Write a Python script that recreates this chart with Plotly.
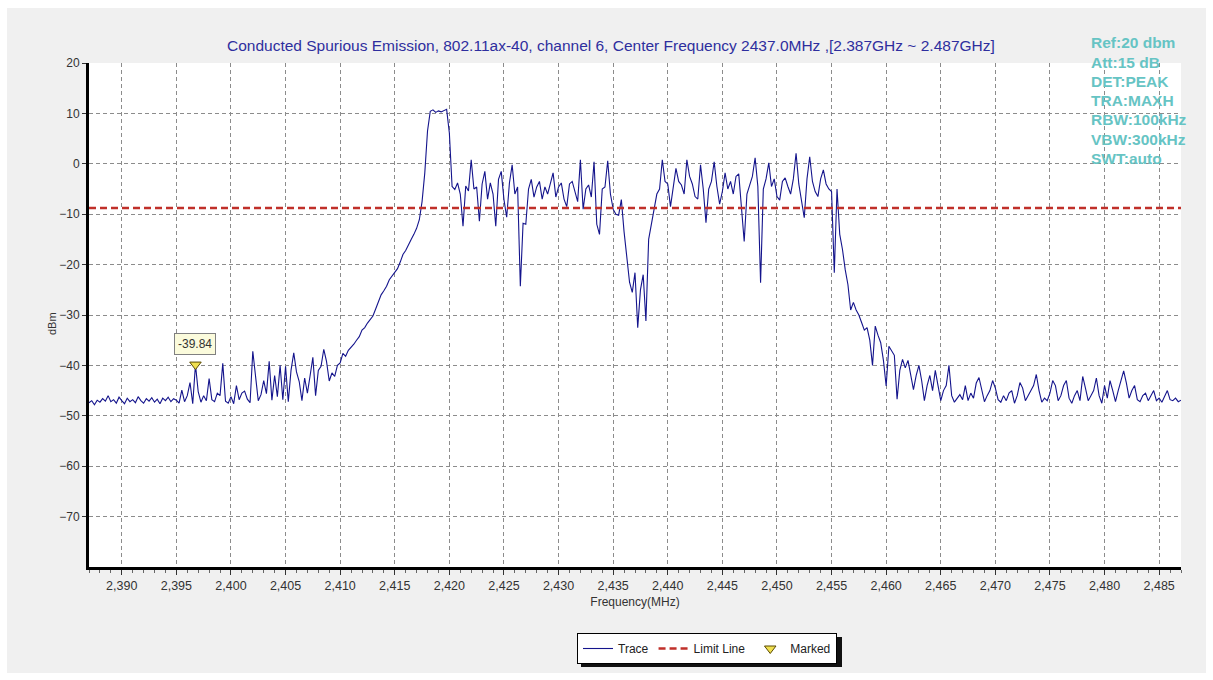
import numpy as np
import plotly.graph_objects as go

# ---------------- data ----------------
TITLE = ("Conducted Spurious Emission, 802.11ax-40, channel 6, Center Frequency 2437.0MHz ,"
         "[2.387GHz ~ 2.487GHz]")
START_MHZ = 2387.0
STOP_MHZ = 2487.0
STEP_MHZ = 0.25

trace_dbm = [
    -47.4, -47.0, -47.8, -46.9,  # 2387
    -47.3, -46.6, -47.1, -46.0,  # 2388
    -47.2, -46.8, -47.5, -46.3,  # 2389
    -47.0, -47.6, -46.5, -47.2,  # 2390
    -46.8, -47.4, -46.2, -47.0,  # 2391
    -47.5, -46.6, -47.1, -46.4,  # 2392
    -47.3, -46.7, -47.6, -46.5,  # 2393
    -47.0, -46.3, -47.2, -46.6,  # 2394
    -46.9, -47.5, -44.9, -47.2,  # 2395
    -46.0, -43.4, -47.6, -39.84,  # 2396
    -45.2, -47.3, -46.0, -47.0,  # 2397
    -42.6, -46.8, -47.2, -45.5,  # 2398
    -46.0, -39.6, -47.1, -47.5,  # 2399
    -46.2, -47.6, -44.0, -46.8,  # 2400
    -45.5, -45.1, -46.7, -47.4,  # 2401
    -37.2, -42.3, -47.0, -45.8,  # 2402
    -43.0, -45.6, -39.2, -46.9,  # 2403
    -42.0, -46.2, -40.0, -46.8,  # 2404
    -40.2, -47.2, -41.0, -37.5,  # 2405
    -41.3, -43.2, -47.0, -42.5,  # 2406
    -45.5, -42.0, -38.4, -46.0,  # 2407
    -41.0, -40.2, -36.8, -39.2,  # 2408
    -43.1, -41.5, -42.2, -40.0,  # 2409
    -39.5, -37.6, -38.2, -37.0,  # 2410
    -36.5, -35.8, -35.0, -34.3,  # 2411
    -33.0, -32.5, -31.6, -30.8,  # 2412
    -30.2, -28.8, -27.2, -26.0,  # 2413
    -25.2, -24.3, -23.0, -22.2,  # 2414
    -21.5, -20.8, -19.5, -18.0,  # 2415
    -17.2, -16.0, -15.0, -14.0,  # 2416
    -12.8, -11.1, -7.5, -1.8,  # 2417
    6.5, 10.4, 10.7, 10.2,  # 2418
    10.5, 10.3, 10.6, 10.8,  # 2419
    6.1, -4.5, -5.1, -3.8,  # 2420
    -6.0, -12.4, -4.4, -5.4,  # 2421
    0.8, -5.0, -4.6, -11.4,  # 2422
    -4.0, -1.5, -7.0, -3.8,  # 2423
    -6.0, -12.4, -3.1, -1.5,  # 2424
    -7.1, -10.6, -3.8, -0.2,  # 2425
    -6.0, -4.6, -24.3, -11.8,  # 2426
    -12.0, -5.0, -3.1, -6.6,  # 2427
    -4.6, -3.5, -7.0, -4.6,  # 2428
    -6.0, -4.0, -1.8, -6.6,  # 2429
    -4.6, -3.8, -7.0, -8.5,  # 2430
    -4.0, -3.5, -5.8, -7.5,  # 2431
    0.8, -9.0, -5.0, -4.2,  # 2432
    -6.6, 0.4, -12.0, -14.0,  # 2433
    -5.0, -4.6, 0.6, -6.0,  # 2434
    -9.0, -10.0, -10.2, -7.1,  # 2435
    -13.5, -19.0, -23.5, -25.5,  # 2436
    -21.6, -32.5, -25.0, -22.0,  # 2437
    -31.2, -15.0, -12.0, -9.1,  # 2438
    -6.0, -5.0, 0.8, -3.5,  # 2439
    -4.0, -8.5, -5.0, -0.9,  # 2440
    -3.5, -4.2, -6.0, 0.8,  # 2441
    -2.5, -4.0, -6.5, -7.0,  # 2442
    -0.2, -5.0, -11.7, -5.0,  # 2443
    -3.5, 0.4, -4.5, -8.0,  # 2444
    -5.5, -1.8, -5.0, -3.5,  # 2445
    -6.0, -2.5, -2.0, -8.0,  # 2446
    -15.4, -6.0, -4.0, -2.5,  # 2447
    1.2, -4.5, -23.6, -5.0,  # 2448
    -3.0, 0.2, -4.5, -3.0,  # 2449
    -6.5, -7.2, -3.5, -2.8,  # 2450
    -4.5, -6.0, -3.0, 2.1,  # 2451
    -4.0, -7.5, -10.7, -3.0,  # 2452
    1.4, -3.5, -5.5, -6.5,  # 2453
    -3.0, -1.2, -4.0, -5.0,  # 2454
    -5.5, -21.6, -5.0, -14.0,  # 2455
    -17.0, -21.0, -24.0, -29.0,  # 2456
    -27.5, -29.0, -30.0, -31.5,  # 2457
    -33.0, -32.5, -35.0, -40.0,  # 2458
    -32.2, -34.0, -35.5, -39.0,  # 2459
    -44.1, -36.2, -37.0, -38.0,  # 2460
    -46.7, -41.0, -38.8, -40.5,  # 2461
    -39.0, -42.0, -44.8, -42.0,  # 2462
    -40.0, -43.0, -47.0, -44.0,  # 2463
    -42.0, -45.0, -41.0, -44.0,  # 2464
    -47.0, -45.0, -44.0, -40.0,  # 2465
    -46.0, -47.3, -46.5, -45.8,  # 2466
    -46.8, -44.0, -47.0, -45.5,  # 2467
    -46.5, -43.5, -42.4, -45.0,  # 2468
    -47.2, -46.0, -45.0, -43.0,  # 2469
    -44.5, -46.8, -47.3, -46.0,  # 2470
    -47.0, -45.5, -45.0, -47.5,  # 2471
    -46.0, -43.4, -44.5, -47.0,  # 2472
    -46.0, -45.0, -44.0, -41.8,  # 2473
    -45.0, -47.3, -46.5, -47.0,  # 2474
    -45.5, -43.0, -44.0, -47.0,  # 2475
    -46.0, -44.0, -43.0, -46.5,  # 2476
    -47.5, -46.0, -45.0, -47.0,  # 2477
    -42.2, -44.5, -47.0, -46.0,  # 2478
    -45.0, -42.5, -46.0, -47.5,  # 2479
    -44.0, -46.5, -43.0, -45.0,  # 2480
    -47.2, -45.0, -43.0, -41.1,  # 2481
    -43.5, -46.5, -45.0, -44.0,  # 2482
    -46.8, -47.2, -46.0, -45.5,  # 2483
    -47.0, -46.0, -45.0, -47.0,  # 2484
    -46.5, -47.3, -46.0, -45.0,  # 2485
    -46.8, -47.0, -46.5, -47.2,  # 2486
    -46.9,                      # 2487
]

limit_dbm = -8.75
marker_freq = [2396.75]
marker_dbm = [-39.84]
marker_label = "-39.84"

x_tick_vals = [2390, 2395, 2400, 2405, 2410, 2415, 2420, 2425, 2430, 2435, 2440,
               2445, 2450, 2455, 2460, 2465, 2470, 2475, 2480, 2485]
y_tick_vals = [20, 10, 0, -10, -20, -30, -40, -50, -60, -70]

settings_text = ["Ref:20 dbm", "Att:15 dB", "DET:PEAK", "TRA:MAXH",
                 "RBW:100kHz", "VBW:300kHz", "SWT:auto"]

n_points = int(round((STOP_MHZ - START_MHZ) / STEP_MHZ)) + 1
assert len(trace_dbm) == n_points
freq_mhz = np.round(START_MHZ + STEP_MHZ * np.arange(n_points), 3)

# ---------------- layout geometry (pixels) ----------------
W, H = 1213, 680
L, R, T, B = 89, 1181, 63, 567
PW, PH = R - L, B - T


def px(xp):
    return (xp - L) / PW


def py(yp):
    return (B - yp) / PH


FONT = "Liberation Sans, Arial, sans-serif"
GRID = "#8c8c8c"

fig = go.Figure()

fig.add_trace(go.Scatter(
    x=freq_mhz, y=trace_dbm, mode="lines", name="Trace",
    line=dict(color="#14148c", width=1.1),
))
fig.add_trace(go.Scatter(
    x=[START_MHZ, STOP_MHZ], y=[limit_dbm, limit_dbm], mode="lines", name="Limit Line",
    line=dict(color="#c0302a", width=2.5, dash="7px,4px"),
))
fig.add_trace(go.Scatter(
    x=marker_freq, y=marker_dbm, mode="markers", name="Marked",
    marker=dict(symbol="triangle-down", size=10, color="#f0e050",
                line=dict(color="#5a4a00", width=1)),
))

# background panel (gray) and white plot area
fig.add_shape(type="rect", xref="paper", yref="paper", layer="below",
              x0=px(7), x1=px(1206), y0=py(673), y1=py(8),
              fillcolor="#f0f0f0", line=dict(width=0))
fig.add_shape(type="rect", xref="paper", yref="paper", layer="below",
              x0=0, x1=1, y0=0, y1=1,
              fillcolor="white", line=dict(width=0))
# legend drop shadow
fig.add_shape(type="rect", xref="paper", yref="paper", layer="below",
              x0=px(581), x1=px(842), y0=py(667), y1=py(637),
              fillcolor="#111111", line=dict(width=0))

annotations = []
# marker label
annotations.append(dict(
    x=marker_freq[0], y=marker_dbm[0], xref="x", yref="y", text=marker_label,
    showarrow=False, yshift=21, font=dict(family=FONT, size=12, color="#333333"),
    bgcolor="#fbfbdc", bordercolor="#808080", borderwidth=1, borderpad=3,
))
# title
annotations.append(dict(
    x=px(611), y=py(46), xref="paper", yref="paper", text=TITLE, showarrow=False,
    font=dict(family=FONT, size=15.5, color="#2e2e9e"), xanchor="center", yanchor="middle",
))
# y-axis title
annotations.append(dict(
    x=px(52), y=py(324), xref="paper", yref="paper", text="dBm", showarrow=False,
    textangle=-90, xanchor="center", yanchor="middle",
    font=dict(family=FONT, size=11, color="#333333"),
))
# settings block
for i, s in enumerate(settings_text):
    annotations.append(dict(
        x=px(1089), y=py(43 + 19.2 * i), xref="paper", yref="paper", text="<b>%s</b>" % s,
        showarrow=False, xanchor="left", yanchor="middle",
        font=dict(family=FONT, size=15.5, color="#66c4c4"),
    ))

fig.update_layout(
    width=W, height=H, autosize=False,
    margin=dict(l=L, r=W - R, t=T, b=H - B, pad=0),
    paper_bgcolor="white", plot_bgcolor="white",
    font=dict(family=FONT, size=12, color="#333333"),
    showlegend=True,
    legend=dict(orientation="h", x=px(707), y=py(633), xanchor="center", yanchor="top",
                bgcolor="white", bordercolor="black", borderwidth=1,
                font=dict(family=FONT, size=12, color="#222222"),
                itemwidth=30, tracegroupgap=0),
    annotations=annotations,
)

fig.update_xaxes(
    range=[START_MHZ, STOP_MHZ], tickvals=x_tick_vals, tickformat=",",
    showgrid=True, gridcolor=GRID, griddash="4px,3px", gridwidth=1,
    showline=True, linecolor="black", linewidth=3, mirror=False,
    ticks="outside", ticklen=5, tickcolor="#333333", tickwidth=1,
    minor=dict(dtick=1, tick0=2387, ticks="outside", ticklen=3, tickcolor="#666666", showgrid=False),
    tickfont=dict(family=FONT, size=12.5, color="#333333"),
    title=dict(text="Frequency(MHz)", font=dict(family=FONT, size=12, color="#333333"), standoff=6),
    zeroline=False,
)
fig.update_yaxes(
    range=[-80, 20], tickvals=y_tick_vals,
    showgrid=True, gridcolor=GRID, griddash="4px,3px", gridwidth=1,
    showline=True, linecolor="black", linewidth=3, mirror=False,
    ticks="outside", ticklen=4, tickcolor="#333333", tickwidth=1,
    tickfont=dict(family=FONT, size=12, color="#333333"),
    zeroline=False,
)

fig.write_html("out.html", config={"displayModeBar": False},
               post_script="document.body.style.margin='0';")
